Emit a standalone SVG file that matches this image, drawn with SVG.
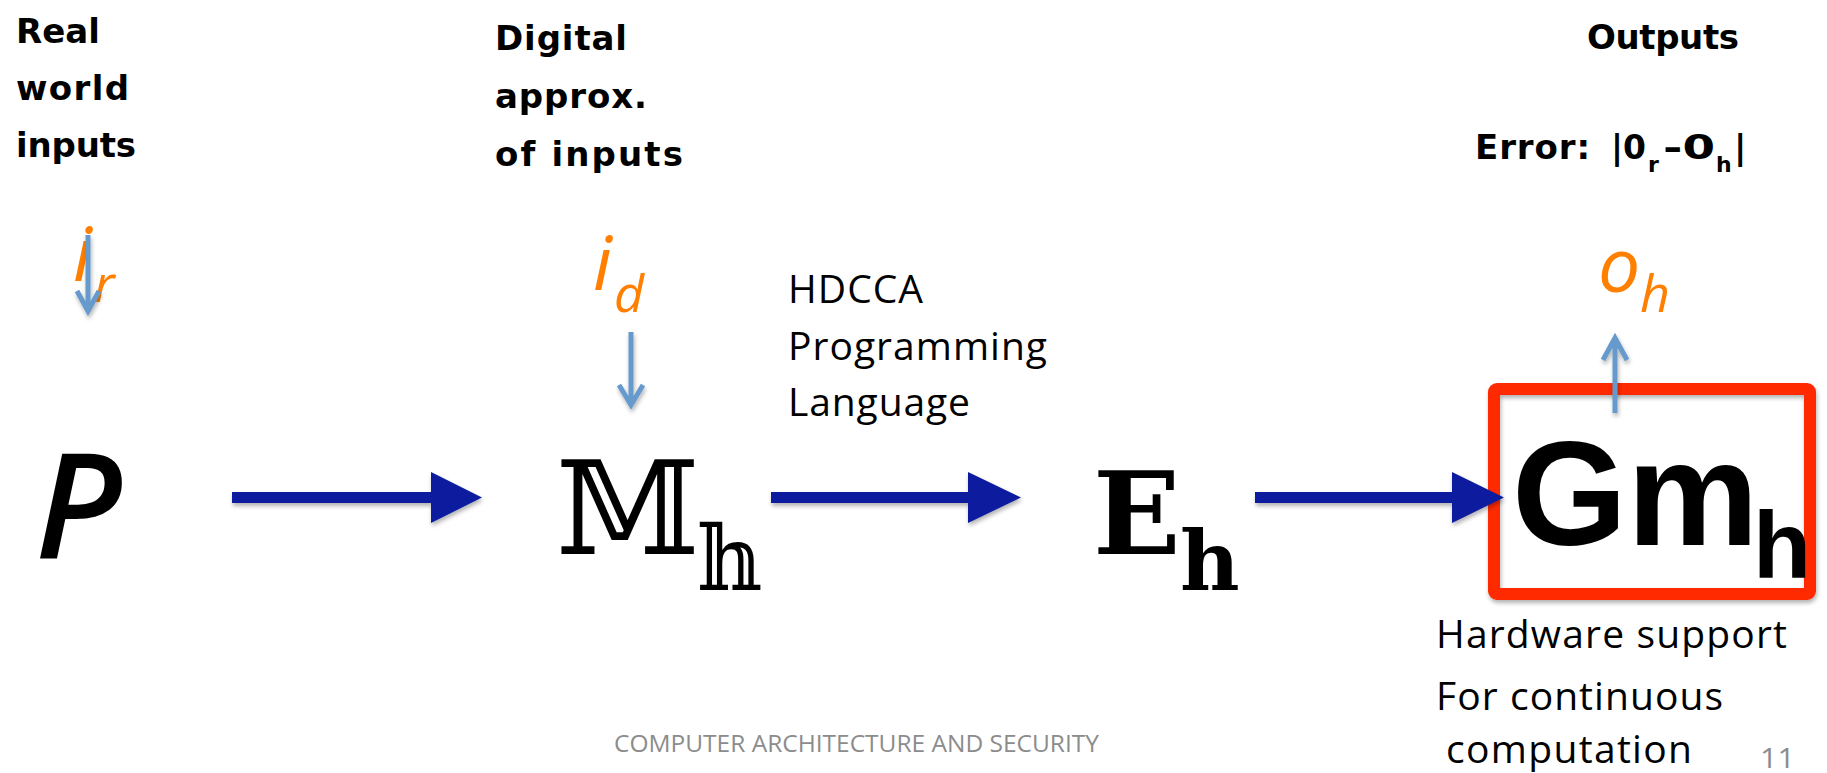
<svg xmlns="http://www.w3.org/2000/svg" width="1827" height="773" viewBox="0 0 1827 773">
<defs>
<style>
.chalk{font-family:"DejaVu Sans","Noto Sans",sans-serif;font-weight:bold;font-size:34px;fill:#000}
.cal{font-family:"Open Sans","Noto Sans",sans-serif;font-size:39px;fill:#000}
.orng{font-family:"Open Sans","Noto Sans",sans-serif;font-style:italic;fill:#FF7F00}
.foot{font-family:"Open Sans","Noto Sans",sans-serif;fill:#8c8c8c}
.big{fill:#0A1C9E}
.thin{fill:none;stroke:#6699CC;stroke-width:5}
</style>
<filter id="sh" x="-20%" y="-20%" width="140%" height="160%">
<feDropShadow dx="1" dy="3" stdDeviation="2" flood-color="#000" flood-opacity="0.3"/>
</filter>
</defs>
<rect width="1827" height="773" fill="#fff"/>

<g id="label-real">
<text class="chalk" x="16" y="43" textLength="84" lengthAdjust="spacing">Real</text>
<text class="chalk" x="16" y="100" textLength="113" lengthAdjust="spacing">world</text>
<text class="chalk" x="16" y="157" textLength="120" lengthAdjust="spacing">inputs</text>
</g>
<g id="label-digital">
<text class="chalk" x="495" y="50" textLength="132" lengthAdjust="spacing">Digital</text>
<text class="chalk" x="495" y="108" textLength="152" lengthAdjust="spacing">approx.</text>
<text class="chalk" x="495" y="166" textLength="188" lengthAdjust="spacing">of inputs</text>
</g>
<g id="label-outputs">
<text class="chalk" x="1587" y="49" textLength="152" lengthAdjust="spacing">Outputs</text>
<text class="chalk"><tspan x="1475" y="159" textLength="115" lengthAdjust="spacing">Error:</tspan><tspan x="1611" y="159" textLength="35" lengthAdjust="spacingAndGlyphs">|0</tspan><tspan x="1648" y="172" font-size="22">r</tspan><tspan x="1663" y="159" textLength="52" lengthAdjust="spacingAndGlyphs">-0</tspan><tspan x="1716" y="172" font-size="22">h</tspan><tspan x="1734" y="159">|</tspan></text>
</g>

<g id="ir">
<text class="orng" x="73" y="281" font-size="75">i</text>
<text class="orng" x="94" y="302" font-size="52">r</text>
</g>
<g id="id">
<text class="orng" x="593" y="290" font-size="75">i</text>
<text class="orng" x="614" y="312" font-size="52">d</text>
</g>
<g id="oh">
<text class="orng" x="1598" y="292" font-size="75">o</text>
<text class="orng" x="1640" y="312" font-size="52">h</text>
</g>

<g id="node-p">
<text x="35" y="558" font-family="'Open Sans','Noto Sans',sans-serif" font-weight="600" font-style="italic" font-size="147" fill="#000">P</text>
</g>
<g id="node-mh">
<text x="556" y="554" font-family="'DejaVu Serif','DejaVu Sans',serif" font-size="130" fill="#000">𝕄</text>
<text x="697" y="590" font-family="'DejaVu Serif','DejaVu Sans',serif" font-size="90" fill="#000">𝕙</text>
</g>
<g id="node-eh">
<text x="1093" y="554" font-family="'DejaVu Serif',serif" font-weight="bold" font-size="115" fill="#000">E</text>
<text x="1180" y="590" font-family="'DejaVu Serif',serif" font-weight="bold" font-size="82" fill="#000">h</text>
</g>
<g id="label-hdcca">
<text class="cal" x="788" y="303" textLength="135" lengthAdjust="spacing">HDCCA</text>
<text class="cal" x="788" y="360" textLength="259" lengthAdjust="spacing">Programming</text>
<text class="cal" x="788" y="416" textLength="182" lengthAdjust="spacing">Language</text>
</g>
<g id="node-gmh">
<rect x="1494" y="389" width="316" height="205" rx="3" fill="none" stroke="#FF2A00" stroke-width="12" filter="url(#sh)"/>
<text x="1512" y="545" font-family="'Liberation Sans',Arial,sans-serif" font-weight="bold" font-size="148" fill="#000">Gm</text>
<text x="1753" y="578" font-family="'Liberation Sans',Arial,sans-serif" font-weight="bold" font-size="95" fill="#000">h</text>
</g>
<g id="label-hw">
<text class="cal" x="1436" y="648" textLength="351" lengthAdjust="spacing">Hardware support</text>
<text class="cal" x="1436" y="710" textLength="287" lengthAdjust="spacing">For continuous</text>
<text class="cal" x="1446" y="763" textLength="246" lengthAdjust="spacing">computation</text>
</g>
<g id="footer">
<text class="foot" x="614" y="752" font-size="24" textLength="485" lengthAdjust="spacingAndGlyphs">COMPUTER ARCHITECTURE AND SECURITY</text>
<text class="foot" x="1760" y="768" font-size="28" textLength="35" lengthAdjust="spacingAndGlyphs">11</text>
</g>

<g id="connectors">
<path class="big" filter="url(#sh)" d="M232,492 H431 V472 L482,497.5 L431,523 V503 H232 Z"/>
<path class="big" filter="url(#sh)" d="M771,492 H968 V472 L1021,497.5 L968,523 V503 H771 Z"/>
<path class="big" filter="url(#sh)" d="M1255,492 H1452 V472 L1504,497.5 L1452,523 V503 H1255 Z"/>
<g filter="url(#sh)">
<path class="thin" d="M88,235 V311 M77,291 L88,311 L99,291"/>
<path class="thin" d="M631,332 V405 M619,385 L631,405 L643,385"/>
<path class="thin" d="M1615,413 V338 M1603,360 L1615,338 L1627,360"/>
</g>
</g>
</svg>
